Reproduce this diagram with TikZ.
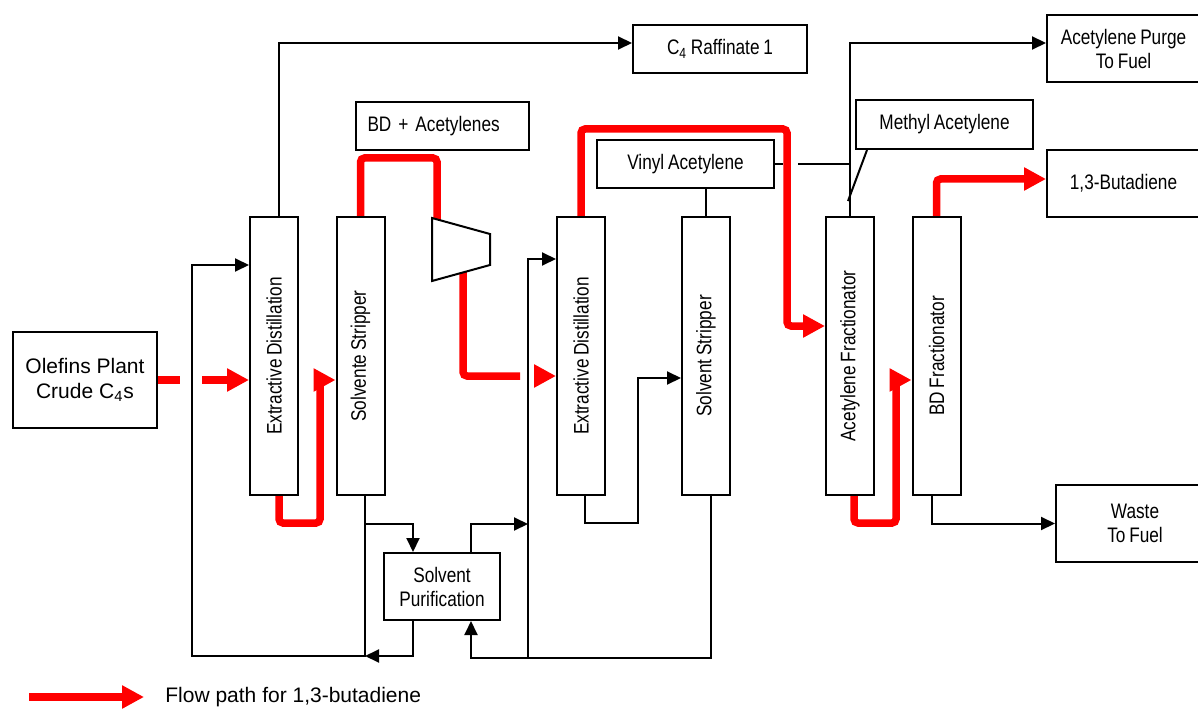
\documentclass[tikz,border=0pt]{standalone}
\usepackage{fontspec}
\setmainfont{Liberation Sans}
\newfontfamily\narrowfont{Liberation Sans}[FakeStretch=0.82,WordSpace=0.8]
\usetikzlibrary{arrows.meta,calc,backgrounds}
\begin{document}
\begin{tikzpicture}[x=0.5pt,y=-0.5pt,
  box/.style={draw,line width=1pt,fill=white,inner sep=0pt,align=center,font=\narrowfont\fontsize{10.5}{12}\selectfont},
  col/.style={draw,line width=1pt,fill=white,inner sep=0pt,minimum width=24pt,minimum height=139pt},
  collabel/.style={rotate=90,inner sep=0pt,font=\narrowfont\fontsize{10.5}{12}\selectfont},
  conn/.style={line width=1pt,black},
  arr/.style={conn,-{Triangle[length=7pt,width=6.5pt]}},
  bdline/.style={line width=3.75pt,red,rounded corners=2pt},
  bdarr/.style={bdline,-{Triangle[length=11pt,width=11pt]}},
]
\useasboundingbox (0,0) rectangle (1198,711);

% boxes
\node[box,font=\fontsize{10.5}{12.5}\selectfont,minimum width=72pt,minimum height=48pt] (olefins) at (85,380) {Olefins Plant\\Crude C\textsubscript{4}s};
\node[box,minimum width=87pt,minimum height=24pt] (raff) at (720,49) {C\textsubscript{4} Raffinate 1};
\node[box,minimum width=86.5pt,minimum height=24pt,text width=75pt,align=left,inner xsep=5.5pt] (bdacet) at (442.5,126) {BD + Acetylenes};
\node[box,minimum width=88.5pt,minimum height=24pt] (vinyl) at (685.5,164) {Vinyl Acetylene};
\node[box,minimum width=88.5pt,minimum height=24.5pt] (methyl) at (944.5,124.5) {Methyl Acetylene};
\node[box,minimum width=76.5pt,minimum height=33.5pt] (purge) at (1123.5,48.5) {Acetylene Purge\\To Fuel};
\node[box,minimum width=76.5pt,minimum height=33.5pt] (bd13) at (1123.5,183.5) {1,3-Butadiene};
\node[box,minimum width=79pt,minimum height=38.5pt] (waste) at (1135,523.5) {Waste\\To Fuel};
\node[box,minimum width=58pt,minimum height=33.5pt] (solvpur) at (442,586.5) {Solvent\\Purification};

% columns
\node[col] (ed1) at (274,356) {};
\node[col] (ss1) at (360.5,356) {};
\node[col] (ed2) at (581,356) {};
\node[col] (ss2) at (706,356) {};
\node[col] (af) at (850,356) {};
\node[col] (bdf) at (936.5,356) {};
\node[collabel] (ed1l) at (ed1) {Extractive Distillation};
\node[collabel] (ss1l) at (ss1) {Solvente Stripper};
\node[collabel] (ed2l) at (ed2) {Extractive Distillation};
\node[collabel] (ss2l) at (ss2) {Solvent Stripper};
\node[collabel] (afl) at (af) {Acetylene Fractionator};
\node[collabel] (bdfl) at (bdf) {BD Fractionator};

% coordinates
\coordinate (gapA) at (180,380);
\coordinate (gapB) at (202,380);
\coordinate (r1a) at (320,523);
\coordinate (r1b) at (320,380);
\coordinate (r1c) at (314,380);
\coordinate (r2a) at (437,158);
\coordinate (compIn) at (437,221);
\coordinate (compOut) at (463,271);
\coordinate (r3a) at (463,376);
\coordinate (gapC) at (520,376);
\coordinate (gapD) at (535,376);
\coordinate (r4a) at (787,129);
\coordinate (r4b) at (787,326);
\coordinate (r5a) at (896,523);
\coordinate (r5b) at (896,380);
\coordinate (r5c) at (890,380);
\coordinate (recA) at (192,265);
\coordinate (recB) at (192,656);
\coordinate (brA) at (365,524);
\coordinate (spRet) at (365,656);
\coordinate (spOut) at (528,524);
\coordinate (fA) at (528,259);
\coordinate (fB) at (528,658);
\coordinate (sbR) at (471,658);
\coordinate (l1) at (638,523);
\coordinate (l2) at (638,378);
\coordinate (vgA) at (783,164);
\coordinate (vgB) at (798,164);
\coordinate (mlEnd) at (848,201);
\coordinate (lgA) at (29,697);
\coordinate (lgB) at (144,697);

\begin{scope}[on background layer]
% red flow path
\draw[bdline] (olefins.east) -- (gapA);
\draw[bdarr] (gapB) -- (gapB -| ed1.west);
\draw[bdline] ([xshift=2.5pt]ed1.south) |- (r1a) -- (r1b);
\draw[bdarr] (r1c) -- (r1c -| ss1.west);
\draw[bdline] (ss1.north) |- (r2a) -- (compIn);
\draw[bdline] (compOut) -- (r3a) -- (gapC);
\draw[bdarr] (gapD) -- (gapD -| ed2.west);
\draw[bdarr] (ed2.north) |- (r4a) -- (r4b) -- (r4b -| af.west);
\draw[bdline] ([xshift=2pt]af.south) |- (r5a) -- (r5b);
\draw[bdarr] (r5c) -- (r5c -| bdf.west);
\draw[bdarr] (bdf.north) |- ([yshift=2.25pt]bd13.west);

% black lines
\draw[arr] ([xshift=2.5pt]ed1.north) |- ([yshift=3pt]raff.west);
\draw[arr] ([xshift=2.25pt]ss1.south) |- (recB) -- (recA) -- (recA -| ed1.west);
\draw[arr] (brA) -| ($(solvpur.north)+(-29,0)$);
\draw[arr] ($(solvpur.south)+(-29,0)$) |- (spRet);
\draw[arr] ($(solvpur.north)+(29,0)$) |- (spOut);
\draw[arr] (fB) -- (fA) -- (fA -| ed2.west);
\draw[arr] ([xshift=2.5pt]ss2.south) |- (sbR) -- ($(solvpur.south)+(29,0)$);
\draw[arr] ([xshift=2pt]ed2.south) |- (l1) -- (l2) -- (l2 -| ss2.west);
\draw[conn] (ss2.north) -- (ss2.north |- vinyl.south);
\draw[conn] (vinyl.east) -- (vgA);
\draw[conn] (vgB) -- (vgB -| af.north);
\draw[arr] (af.north) |- ([yshift=2.75pt]purge.west);
\draw[conn] ($(methyl.south west)+(12,0)$) -- (mlEnd);
\draw[arr] ([xshift=-2.25pt]bdf.south) |- (waste.west);
\end{scope}

% compressor
\draw[line width=1pt,fill=white] (432,218) -- (490,234) -- (490,265) -- (432,281) -- cycle;

% legend
\draw[bdarr] (lgA) -- (lgB);
\node[anchor=west,inner sep=0pt,font=\fontsize{10.5}{12}\selectfont] (legend) at (165,697) {Flow path for 1,3-butadiene};
\end{tikzpicture}
\end{document}
